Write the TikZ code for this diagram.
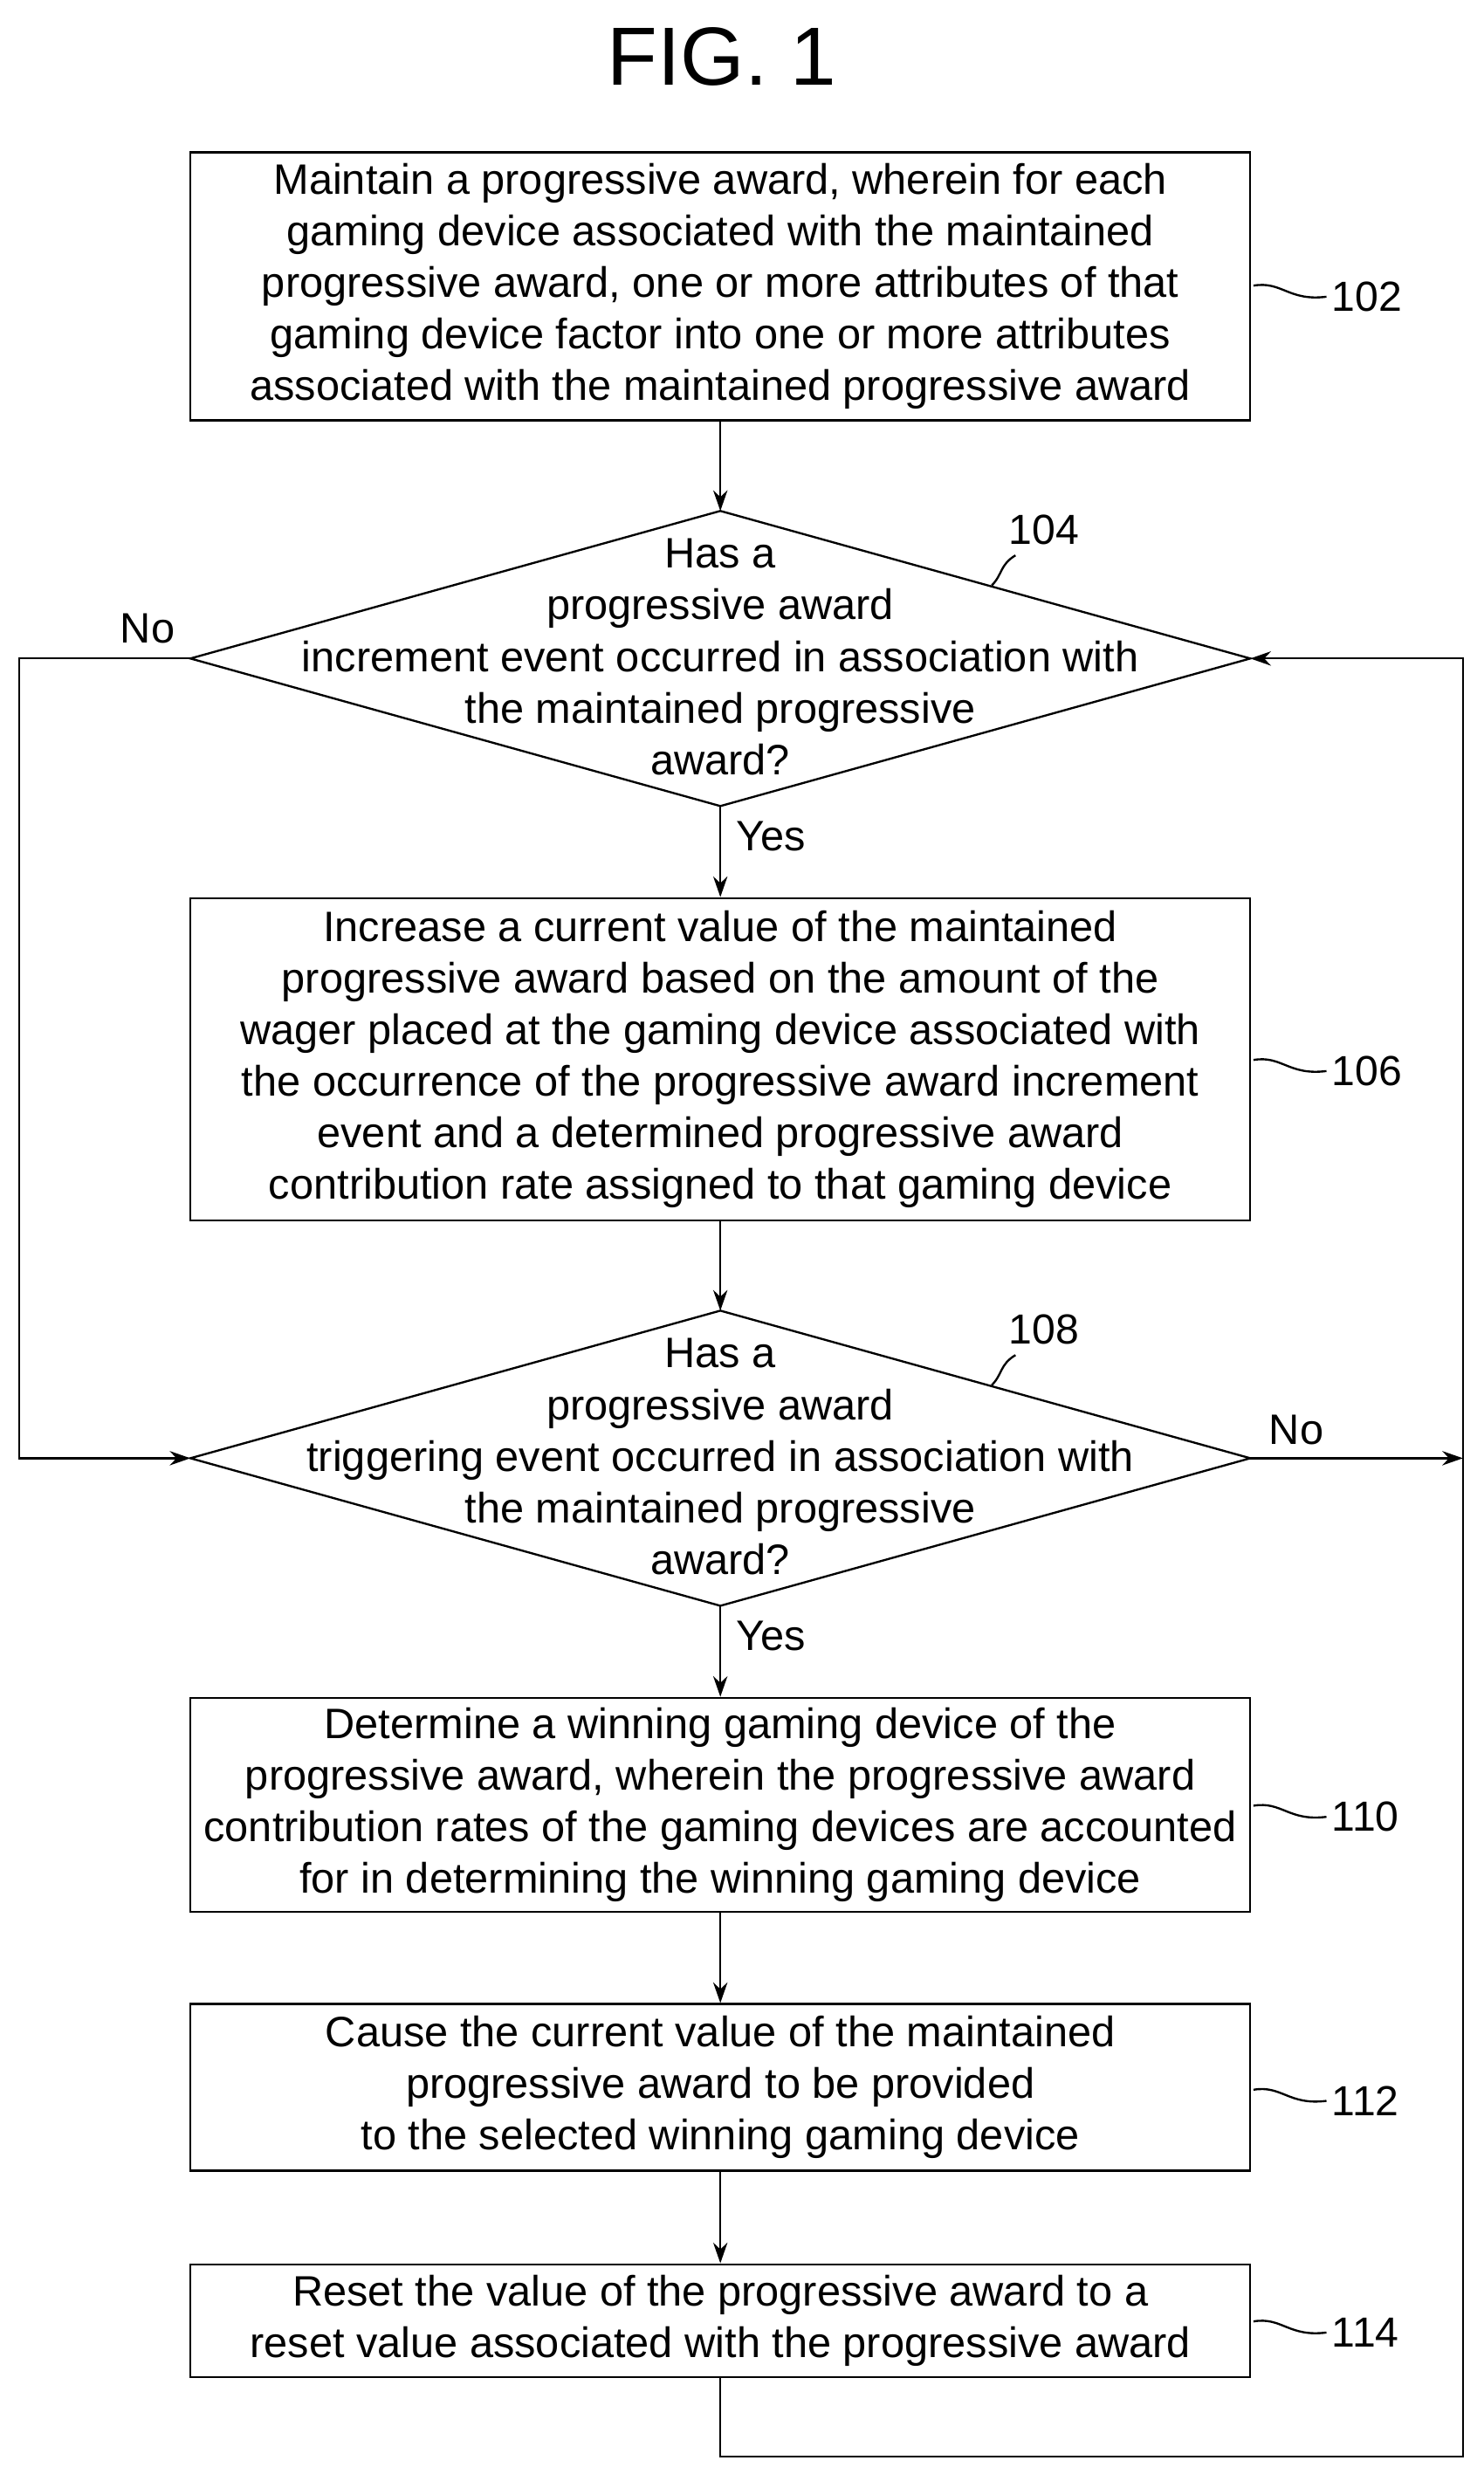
\documentclass[tikz,border=0pt]{standalone}
\usepackage{fontspec}
\setmainfont{Liberation Sans}
\usetikzlibrary{arrows.meta}
\begin{document}
\begin{tikzpicture}[x=1pt,y=-1pt,
  every node/.style={font=\fontsize{26.8}{32.5}\selectfont},
  box/.style={draw,line width=1.3pt,align=center,inner sep=0pt},
  ln/.style={line width=1.3pt},
  arr/.style={ln,-{Stealth[length=13pt,width=9pt]}},
  lbl/.style={font=\fontsize{26.5}{28}\selectfont}]
\useasboundingbox (0,0) rectangle (935,1568);
\node[font=\fontsize{52}{56}\selectfont] (title) at (455,36) {FIG. 1};
\node[box,minimum width=668pt,minimum height=169pt] (b102) at (454,180.5) {Maintain a progressive award, wherein for each\\gaming device associated with the maintained\\progressive award, one or more attributes of that\\gaming device factor into one or more attributes\\associated with the maintained progressive award};
% diamond 104
\coordinate (d1t) at (454,322); \coordinate (d1b) at (454,508);
\coordinate (d1l) at (120,415); \coordinate (d1r) at (788,415);
\draw[ln] (d1t)--(d1r)--(d1b)--(d1l)--cycle;
\node[align=center] (t104) at (454,414) {Has a\\progressive award\\increment event occurred in association with\\the maintained progressive\\award?};
\node[box,minimum width=668pt,minimum height=203pt] (b106) at (454,667.5) {Increase a current value of the maintained\\progressive award based on the amount of the\\wager placed at the gaming device associated with\\the occurrence of the progressive award increment\\event and a determined progressive award\\contribution rate assigned to that gaming device};
\coordinate (d2t) at (454,826); \coordinate (d2b) at (454,1012);
\coordinate (d2l) at (120,919); \coordinate (d2r) at (788,919);
\draw[ln] (d2t)--(d2r)--(d2b)--(d2l)--cycle;
\node[align=center] (t108) at (454,918) {Has a\\progressive award\\triggering event occurred in association with\\the maintained progressive\\award?};
\node[box,minimum width=668pt,minimum height=135pt] (b110) at (454,1137.5) {Determine a winning gaming device of the\\progressive award, wherein the progressive award\\contribution rates of the gaming devices are accounted\\for in determining the winning gaming device};
\node[box,minimum width=668pt,minimum height=105pt] (b112) at (454,1315.5) {Cause the current value of the maintained\\progressive award to be provided\\to the selected winning gaming device};
\node[box,minimum width=668pt,minimum height=71pt] (b114) at (454,1462.5) {Reset the value of the progressive award to a\\reset value associated with the progressive award};
% connectors
\draw[arr] (b102.south) -- (d1t);
\draw[arr] (d1b) -- (b106.north);
\draw[arr] (b106.south) -- (d2t);
\draw[arr] (d2b) -- (b110.north);
\draw[arr] (b110.south) -- (b112.north);
\draw[arr] (b112.south) -- (b114.north);
\coordinate (lp1) at (454,1548); \coordinate (lp2) at (922,1548); \coordinate (lp3) at (922,415);
\draw[arr] (b114.south) -- (lp1) -- (lp2) -- (lp3) -- (d1r);
\coordinate (n1) at (12,415); \coordinate (n2) at (12,919);
\draw[arr] (d1l) -- (n1) -- (n2) -- (d2l);
\coordinate (n3) at (922,919);
\draw[arr] (d2r) -- (n3);
\node (no1) at (93,396) {No};
\node (yes1) at (486,527) {Yes};
\node (no2) at (817,901) {No};
\node (yes2) at (486,1031) {Yes};
% reference labels
\foreach \n/\y in {102/187,106/675,110/1145,112/1324,114/1470}{
  \node[lbl,anchor=west] (r\n) at (836,\y) {\n};
  \draw[ln] (790,\y-7) .. controls (808,\y-10) and (812,\y+3) .. (r\n.west);
}
\node[lbl] (r104) at (658,334) {104};
\draw[ln] (625,369) .. controls (632,362) and (630,356) .. (640,350);
\node[lbl] (r108) at (658,838) {108};
\draw[ln] (625,873) .. controls (632,866) and (630,860) .. (640,854);
\end{tikzpicture}
\end{document}
